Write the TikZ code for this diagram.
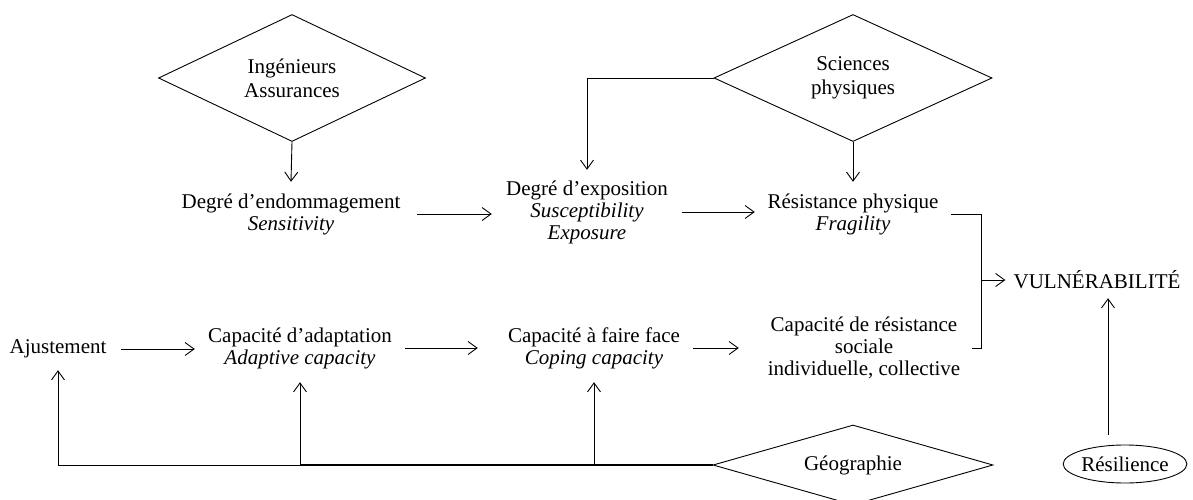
\documentclass[tikz,border=0pt]{standalone}
\usepackage{fontspec}
\setmainfont{Liberation Serif}
\usetikzlibrary{arrows.meta,shapes.geometric}
\begin{document}
\begin{tikzpicture}[x=1pt,y=-1pt,
  every node/.style={font=\fontsize{21}{22}\selectfont, inner sep=0pt, align=center},
  ln/.style={line width=0.9pt, draw=black},
  arr/.style={ln, -{Straight Barb[length=9pt,width=13pt]}},
  dia/.style={draw, diamond, line width=0.9pt, font=\fontsize{21}{24}\selectfont}]
\useasboundingbox (0,0) rectangle (1193,500);
\clip (0,0) rectangle (1193,500);
% shapes
\node[dia, minimum width=267pt, minimum height=127pt, aspect=2.1] (d1) at (292,78) {Ingénieurs\\Assurances};
\node[dia, minimum width=278pt, minimum height=127pt, aspect=2.1] (d2) at (853,78) {Sciences\\physiques};
\node[dia, minimum width=280pt, minimum height=80pt, aspect=3.5] (geo) at (853,465) {Géographie};
\node[draw, ellipse, line width=0.9pt, minimum width=114pt, minimum height=38pt] (res) at (1125,464) {Résilience};
% texts
\node[minimum width=252pt, minimum height=64pt] (sens) at (291,214) {Degré d’endommagement\\\textit{Sensitivity}};
\node[minimum width=190pt, minimum height=84pt] (expo) at (587,212) {Degré d’exposition\\\textit{Susceptibility}\\\textit{Exposure}};
\node[minimum width=196pt, minimum height=64pt] (frag) at (853,214) {Résistance physique\\\textit{Fragility}};
\node[minimum height=36pt] (vul) at (1097,280) {VULNÉRABILITÉ};
\node[minimum width=126pt, minimum height=42pt] (aj) at (58,349) {Ajustement};
\node[minimum width=210pt, minimum height=68pt] (adapt) at (300,348) {Capacité d’adaptation\\\textit{Adaptive capacity}};
\node[minimum width=232pt, minimum height=68pt] (coping) at (594,348) {Capacité à faire face\\\textit{Coping capacity}};
\node[minimum width=216pt] (soc) at (864,348) {Capacité de résistance\\sociale\\individuelle, collective};
\coordinate (j) at (981,280);
\coordinate (rtop) at (1108,435);
% connectors
\draw[arr] (d1.south) -- (sens.north);
\draw[arr] (d2.south) -- (frag.north);
\draw[arr] (d2.west) -| (expo.north);
\draw[arr] (sens.east) -- (sens.east -| expo.west);
\draw[arr] (expo.east) -- (expo.east -| frag.west);
\draw[ln] (frag.east) -| (j);
\draw[ln] (soc.east) -| (j);
\draw[arr, shorten >=8pt] (j) -- (vul.west);
\draw[arr] (rtop) -- (rtop |- vul.south);
\draw[arr] (aj.east) -- (aj.east -| adapt.west);
\draw[arr] (adapt.east) -- (adapt.east -| coping.west);
\draw[arr] ([xshift=-17pt]coping.east) -- ([xshift=-17pt]coping.east -| soc.west);
\draw[line width=2pt] (geo.west) -- (geo.west -| adapt.south);
\draw[arr] (geo.west -| adapt.south) -| (aj.south);
\draw[arr] (geo.west -| adapt.south) -- (adapt.south);
\draw[arr] (geo.west -| coping.south) -- (coping.south);
\end{tikzpicture}
\end{document}
